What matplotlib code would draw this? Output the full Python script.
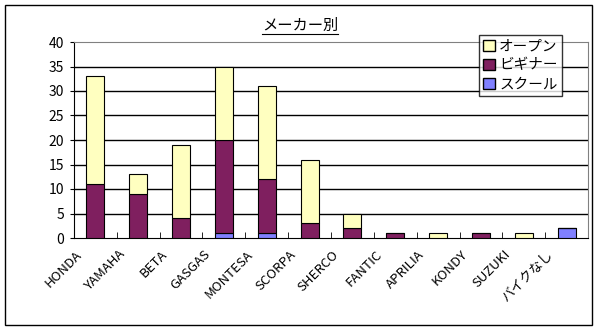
import matplotlib.pyplot as plt
import matplotlib.patches as mpatches
import matplotlib.transforms as mtransforms
import numpy as np

plt.rcParams['font.family'] = ['Noto Sans CJK JP', 'DejaVu Sans']

makers = ['HONDA', 'YAMAHA', 'BETA', 'GASGAS', 'MONTESA', 'SCORPA', 'SHERCO',
          'FANTIC', 'APRILIA', 'KONDY', 'SUZUKI', 'バイクなし']
school = [0, 0, 0, 1, 1, 0, 0, 0, 0, 0, 0, 2]
beginner = [11, 9, 4, 19, 11, 3, 2, 1, 0, 1, 0, 0]
open_cls = [22, 4, 15, 15, 19, 13, 3, 0, 1, 0, 1, 0]

c_open = '#FFFFC0'
c_beg = '#7F1F5F'
c_sch = '#8080FF'

fig = plt.figure(figsize=(5.99, 3.30), dpi=100)
# outer chart frame
fig.patches.append(mpatches.Rectangle((5/599, 5/330), 587/599, 320/330,
                                      transform=fig.transFigure, fill=False,
                                      edgecolor='black', lw=1))
ax = fig.add_axes([74/599, 1 - 238/330, 514/599, 196/330])

x = np.arange(len(makers))
w = 0.42
s = np.array(school)
b = np.array(beginner)
o = np.array(open_cls)
kw = dict(width=w, edgecolor='black', linewidth=0.8, zorder=3)
ax.bar(x, s, color=c_sch, **kw)
ax.bar(x, b, bottom=s, color=c_beg, **kw)
ax.bar(x, o, bottom=s + b, color=c_open, **kw)

ax.set_xlim(-0.5, len(makers) - 0.5)
ax.set_ylim(0, 40)
ax.set_yticks(range(0, 41, 5))
for yv in range(5, 40, 5):
    ax.axhline(yv, color='black', lw=1, zorder=1)

ax.spines['top'].set_color('#808080')
ax.spines['right'].set_color('#808080')
ax.spines['left'].set_color('black')
ax.spines['bottom'].set_color('black')

ax.set_xticks(x)
ax.set_xticklabels(makers, rotation=45, ha='right', va='top',
                   rotation_mode='anchor', fontsize=9.5)
ax.tick_params(axis='x', length=0, pad=0)
off = mtransforms.ScaledTranslation(-20/100, -10/100, fig.dpi_scale_trans)
for lab in ax.get_xticklabels():
    lab.set_transform(lab.get_transform() + off)
ax.set_xticks(np.arange(0.5, len(makers) - 0.5, 1), minor=True)
ax.tick_params(axis='x', which='minor', direction='in', length=4, color='black')
ax.tick_params(axis='y', length=3, labelsize=10, pad=4)

fig.text(300/599, 1 - 25/330, 'メーカー別', ha='center', va='center', fontsize=11)
fig.lines.append(plt.Line2D([262/599, 338/599], [1 - 34/330, 1 - 34/330],
                            transform=fig.transFigure, color='black', lw=0.8))

handles = [mpatches.Patch(facecolor=c_open, edgecolor='black', label='オープン'),
           mpatches.Patch(facecolor=c_beg, edgecolor='black', label='ビギナー'),
           mpatches.Patch(facecolor=c_sch, edgecolor='black', label='スクール')]
leg = ax.legend(handles=handles, loc='upper right', bbox_to_anchor=(562/599, 1 - 35/330),
                bbox_transform=fig.transFigure, fontsize=10.5, frameon=True, fancybox=False,
                handlelength=0.8, handleheight=0.8, handletextpad=0.3, labelspacing=0.35,
                borderpad=0.3, borderaxespad=0)
leg.get_frame().set_edgecolor('black')
leg.get_frame().set_linewidth(1)
leg.set_zorder(5)

fig.savefig('out.png', dpi=100)
